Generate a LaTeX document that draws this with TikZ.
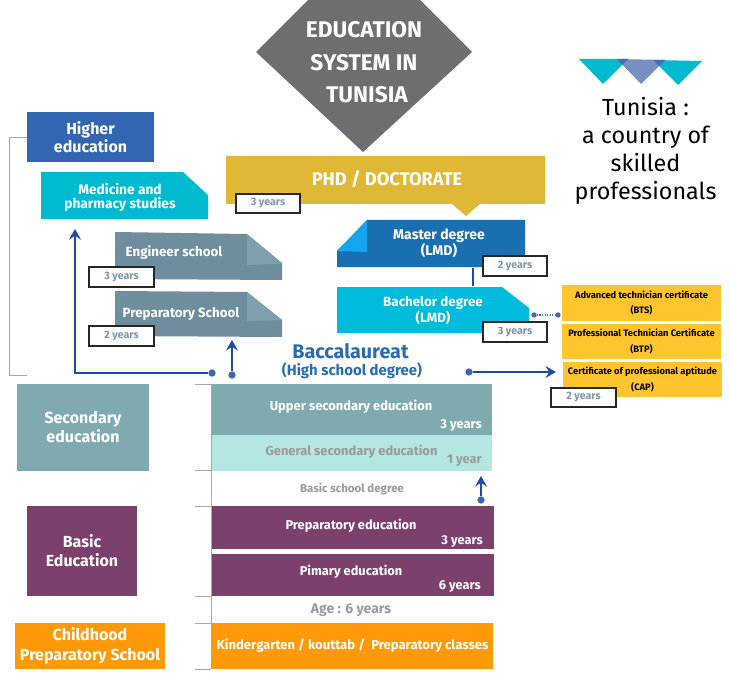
\documentclass[tikz,border=0pt]{standalone}
\usepackage{fontspec}
\setmainfont{Fira Sans}
\usetikzlibrary{arrows.meta}
\definecolor{cdiamond}{HTML}{6D6E71}
\definecolor{cphd}{HTML}{DFB935}
\definecolor{chigher}{HTML}{3366B2}
\definecolor{ccyan}{HTML}{00BBD0}
\definecolor{cbach}{HTML}{00BBDC}
\definecolor{cslate}{HTML}{6E8E9E}
\definecolor{cfold}{HTML}{7D9FAE}
\definecolor{cmaster}{HTML}{1A6FB0}
\definecolor{cmfold}{HTML}{15A5EE}
\definecolor{cgold}{HTML}{FFC52F}
\definecolor{cteal}{HTML}{7FABB0}
\definecolor{cpale}{HTML}{B4E6E2}
\definecolor{cpurple}{HTML}{7B416C}
\definecolor{corange}{HTML}{FF9908}
\definecolor{cblue}{HTML}{1F4AA8}
\definecolor{cbac}{HTML}{2B6CB0}
\definecolor{cyears}{HTML}{7C96A8}
\definecolor{cline}{HTML}{A8A8A8}
\definecolor{cgraytext}{HTML}{9A9A9A}
\definecolor{cmid}{HTML}{7790C4}
\definecolor{cover}{HTML}{3F6FB8}
\tikzset{
  x=0.75pt,y=-0.75pt,
  ft/.style={font=\fontsize{#1}{14}\selectfont\bfseries},
  lbl/.style={inner sep=0pt,align=center,text=white},
  yearsbox/.style={draw=black!85,line width=0.9pt,fill=white,text=cyears,inner sep=0pt,font=\fontsize{8}{10}\selectfont\bfseries},
  flow/.style={cblue,line width=1.5pt},
  arrowflow/.style={flow,-{Stealth[length=8pt,width=9pt,inset=3pt]}},
  dotn/.style={circle,fill=cblue!85!white,inner sep=0pt,minimum size=5.5pt},
  rule/.style={cline,line width=0.7pt},
  cert/.style={lbl,text=black,fill=cgold,font=\fontsize{7}{11.7}\selectfont\bfseries}
}
\newcommand\pxbox[7][]{%
  \pgfmathsetmacro\pxw{(#4-#2)*0.75}\pgfmathsetmacro\pxh{(#5-#3)*0.75}%
  \pgfmathsetmacro\pxcx{(#2+#4)/2}\pgfmathsetmacro\pxcy{(#3+#5)/2}%
  \node[minimum width=\pxw pt,minimum height=\pxh pt,#7,#1] (#6) at (\pxcx,\pxcy)}
\begin{document}
\begin{tikzpicture}
\useasboundingbox (0,0) rectangle (730,673);
\fill[white] (0,0) rectangle (730,673);

% Title diamond
\fill[cdiamond] (256,52) -- (308,0) -- (420,0) -- (472,52) -- (363,152) -- cycle;
\node[lbl,ft=17] (title1) at (364,29.5) {EDUCATION};
\node[lbl,ft=17] (title2) at (364,62.5) {SYSTEM IN};
\node[lbl,ft=17] (title3) at (367,94.5) {TUNISIA};

% Logo
\fill[ccyan] (579,59) -- (603,84) -- (628,59) -- cycle;
\fill[ccyan] (653,60) -- (678,85) -- (702,61) -- cycle;
\fill[cmid] (617,59) -- (641,84) -- (665,60) -- cycle;
\fill[cover] (617,59) -- (628,59) -- (622.5,65) -- cycle;
\fill[cover] (653,60) -- (665,60) -- (659,66) -- cycle;
\node[lbl,text=black,font=\fontsize{17.5}{21}\selectfont] (tun) at (645.5,151) {Tunisia :\\a country of\\skilled\\professionals};

% PhD
\fill[cphd] (226,156) -- (545,156) -- (545,204) -- (480,204) -- (466,216) -- (452,204) -- (226,204) -- cycle;
\node[lbl,ft=13.7] (phd) at (387,179) {PHD / DOCTORATE};
\pxbox{236}{194}{300}{213}{yphd}{yearsbox} {3 years};

% Higher
\pxbox{27}{112}{154}{162}{higher}{lbl,fill=chigher,ft=12} {Higher\\[-1pt]education};
\draw[rule] (higher.west) -- ++(-17,0) |- (27,375);

% Medicine
\fill[ccyan] (41,172) -- (183,172) -- (208,195) -- (208,219) -- (41,219) -- cycle;
\node[lbl,font=\fontsize{10.3}{10.5}\selectfont\bfseries] (med) at (120,197.5) {Medicine and\\pharmacy studies};
\coordinate (medt) at (75,229);

% Engineer
\fill[cslate] (115,232) -- (247,234) -- (282,263) -- (282,280) -- (115,279) -- cycle;
\fill[cfold] (247,234) -- (282,263.5) -- (247,265) -- cycle;
\node[lbl,ft=10] (eng) at (174,252.5) {Engineer school};
\pxbox{89}{267}{154}{287}{y3e}{yearsbox} {3 years};

% Preparatory school
\fill[cslate] (115,291) -- (247,292) -- (282,320) -- (282,337) -- (115,336) -- cycle;
\fill[cfold] (247,292) -- (282,320) -- (247,321) -- cycle;
\node[lbl,ft=10] (prepschool) at (181,313.5) {Preparatory School};
\pxbox{89}{326}{154}{346}{y2p}{yearsbox} {2 years};

% Master
\fill[cmaster] (337,251) -- (367,220) -- (525,220) -- (525,267) -- (337,267) -- cycle;
\fill[cmfold] (337,251) -- (367,220) -- (367,252) -- cycle;
\node[lbl,font=\fontsize{10.5}{11.3}\selectfont\bfseries] (master) at (439,243.5) {Master degree\\(LMD)};

% Bachelor
\fill[cbach] (337,287) -- (502,287) -- (529,308) -- (529,333) -- (337,333) -- cycle;
\node[lbl,font=\fontsize{10}{11.3}\selectfont\bfseries] (bachelor) at (433,310.5) {Bachelor degree\\(LMD)};
\coordinate (mbtop) at (473,268);
\coordinate (mbbot) at (473,286);
\draw[flow] (mbtop) -- (mbbot);
\pxbox{483}{256}{547}{276}{y2m}{yearsbox} {2 years};
\pxbox{483}{322}{547}{342}{y3b}{yearsbox} {3 years};

% Certificates
\pxbox{562}{285}{721}{321}{bts}{cert} {Advanced technician certificate\\(BTS)};
\pxbox{562}{324}{721}{359}{btp}{cert} {Professional Technician Certificate\\(BTP)};
\pxbox{563}{362}{722}{397}{cap}{cert} {Certificate of professional aptitude\\(CAP)};
\pxbox{551}{388}{616}{407}{y2c}{yearsbox} {2 years};
\node[dotn,minimum size=4pt] (dotb) at (534,315) {};
\node[dotn,minimum size=4pt] (dotc) at (558,315) {};
\draw[cblue!80!white,line width=0.9pt,densely dotted] (dotb) -- (dotc);

% Baccalaureat
\node[lbl,text=cbac,font=\fontsize{14.8}{14.8}\selectfont\bfseries] (bac) at (350.5,351) {Baccalaureat};
\node[lbl,text=cbac,font=\fontsize{11.2}{11.2}\selectfont\bfseries] (hs) at (352,371) {(High school degree)};
\node[dotn] (dotl) at (212,373) {};
\node[dotn] (dotu) at (232,375) {};
\node[dotn] (dotr) at (469,372) {};
\coordinate (prept) at (232,340);
\coordinate (capt) at (556,372);
\draw[arrowflow] (dotl) -| (medt);
\draw[arrowflow] (dotu) -- (prept);
\draw[arrowflow] (dotr) -- (capt);

% Timeline rules
\draw[rule] (211,384) -- (211,669);
\foreach \yy in {384,470,506,596,623.5,669} \draw[rule] (195,\yy) -- (211,\yy);

% Left column
\pxbox{17}{384}{149}{471}{secondary}{lbl,fill=cteal,font=\fontsize{12}{14.3}\selectfont\bfseries} {Secondary\\education};
\pxbox{27}{506}{137}{596}{basic}{lbl,fill=cpurple,font=\fontsize{12}{14.3}\selectfont\bfseries} {Basic\\Education};
\pxbox{15}{623}{165}{669}{child}{lbl,fill=corange,font=\fontsize{12}{14.8}\selectfont\bfseries} {Childhood\\Preparatory School};

% Right column
\pxbox{212}{384}{492}{435}{upper}{fill=cteal,inner sep=0pt} {};
\pxbox{212}{435}{492}{471}{general}{fill=cpale,inner sep=0pt} {};
\pxbox{212}{506}{494}{549}{prep}{fill=cpurple,inner sep=0pt} {};
\pxbox{212}{554}{494}{596}{primary}{fill=cpurple,inner sep=0pt} {};
\pxbox{212}{623}{493}{669}{kinder}{lbl,fill=corange,font=\fontsize{9.8}{11}\selectfont\bfseries} {Kindergarten / kouttab /\ \ Preparatory classes};

\node[lbl,ft=9.7] (upt) at (351,407) {Upper secondary education};
\node[lbl,anchor=east,ft=9.6] (upy) at (482,426) {3 years};
\node[lbl,text=cgraytext,ft=9.7] (gent) at (351.5,452) {General secondary education};
\node[lbl,anchor=east,text=cgraytext,ft=9.6] (geny) at (482,461) {1 year};
\node[lbl,text=cgraytext,ft=8.6] (bsd) at (352,489) {Basic school degree};
\node[dotn] (dotbs) at (481,500) {};
\coordinate (gent2) at (481,476);
\draw[arrowflow] (dotbs) -- (gent2);
\node[lbl,ft=9.6] (prt) at (351,526) {Preparatory education};
\node[lbl,anchor=east,ft=9.6] (pry) at (483,541) {3 years};
\node[lbl,ft=9.6] (pmt) at (351,572) {Pimary education};
\node[lbl,anchor=east,ft=9.6] (pmy) at (481,586) {6 years};
\node[lbl,text=cgraytext,ft=10.5] (age) at (351,610) {Age : 6 years};
\end{tikzpicture}
\end{document}
